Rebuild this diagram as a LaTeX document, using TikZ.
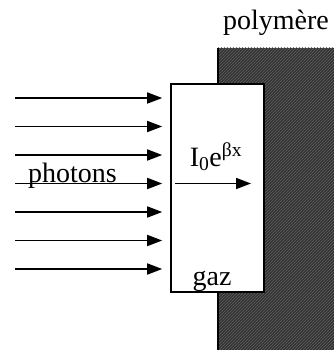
\documentclass[tikz,border=0pt]{standalone}
\usepackage{fontspec}
\setmainfont{Liberation Serif}
\usepackage{tikz}
\usetikzlibrary{arrows.meta, positioning, patterns}

\begin{document}
\begin{tikzpicture}[x=1pt, y=-1pt,
  font=\fontsize{28}{30}\selectfont,
  ray/.style={-{Triangle[length=15pt, width=11pt]}, line width=1.7pt},
  cell/.style={draw, line width=1.6pt, fill=white, minimum width=93pt,
               minimum height=208pt, inner sep=0pt},
  lbl/.style={anchor=base, inner sep=0pt}]
  \useasboundingbox (0,0) rectangle (333,350);
  % polymer wall
  \fill[black!80] (218,48) rectangle (335,352);
  \fill[pattern=north east lines, pattern color=black!62] (218,48) rectangle (335,352);
  \draw[line width=1.8pt] (218,48) -- (218,352);
  \node[lbl] (poly) at (276,29.5) {polymère};
  % gas cell
  \node[cell] (gas) at (217.5,188) {};
  \node[lbl] (gaz) at (212,285) {gaz};
  % incoming photons
  \foreach \i in {0,...,6}
    \coordinate (s\i) at (15,98+28.5*\i);
  \foreach \i in {0,...,6}
    \draw[ray, shorten >=8pt] (s\i) -- (s\i -| gas.west);
  \node[lbl] (ph) at (72.5,182.5) {photons};
  % intensity inside the cell
  \coordinate (a) at (175,183.5);
  \coordinate (b) at (251,183.5);
  \draw[ray] (a) -- (b);
  \node[lbl] (int) at (216,166) {I\textsubscript{0}e\textsuperscript{βx}};
\end{tikzpicture}
\end{document}
